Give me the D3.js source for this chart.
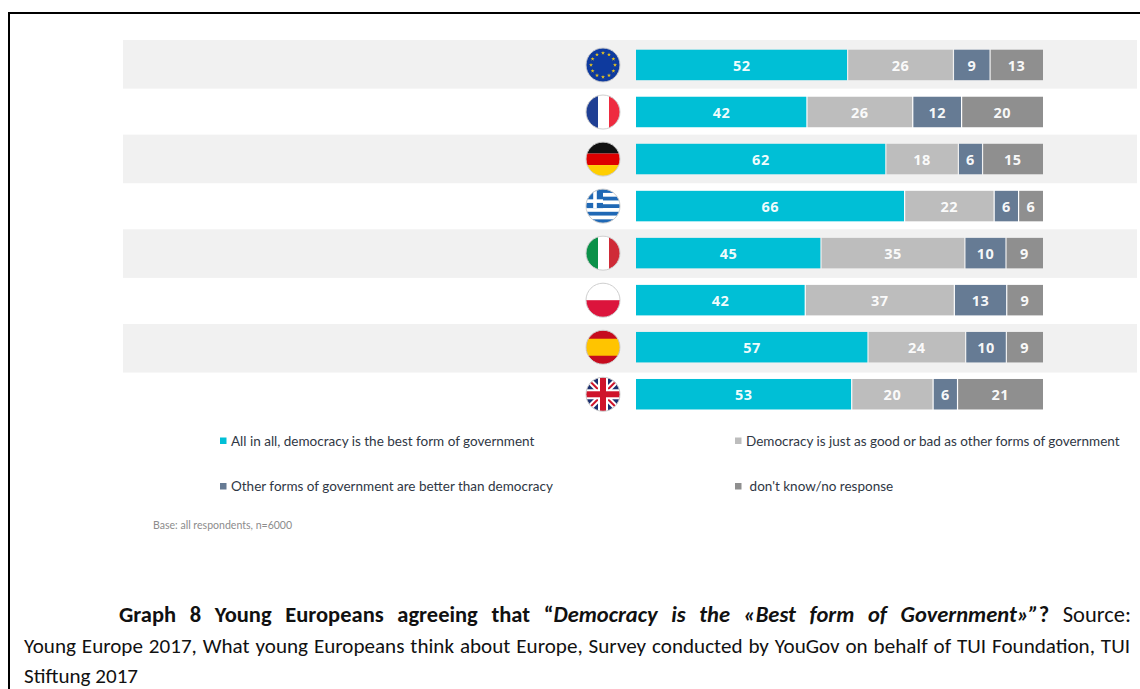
<!DOCTYPE html>
<html><head><meta charset="utf-8">
<script src="https://cdn.jsdelivr.net/npm/d3@7"></script>
<style>html,body{margin:0;padding:0;background:#fff;overflow:hidden}svg{display:block}</style>
</head><body><svg id="c" width="1140" height="689"></svg>
<script>
const countries = ["EU","France","Germany","Greece","Italy","Poland","Spain","UK"];
const bestForm   = [52,42,62,66,45,42,57,53];
const asGoodBad  = [26,26,18,22,35,37,24,20];
const otherForms = [9,12,6,6,10,13,10,6];
const dontKnow   = [13,20,15,6,9,9,9,21];
const seriesKeys = ["best","same","other","dk"];
const seriesLabels = ["All in all, democracy is the best form of government","Democracy is just as good or bad as other forms of government","Other forms of government are better than democracy","don't know/no response"];
const seriesColors = ["#00bfd6","#bdbdbd","#667b94","#8f8f8f"];

const svg = d3.select("#c");
const CHART = "Lato, 'Open Sans', sans-serif";
const table = countries.map((c,i)=>({country:c,best:bestForm[i],same:asGoodBad[i],other:otherForms[i],dk:dontKnow[i]}));
const rowY = d3.scaleBand().domain(countries).range([40,40+8*47.33]);
const barY = d3.scaleBand().domain(countries).range([49.7,49.7+8*47.04]);
const rowScale = d => d3.scaleLinear().domain([0,d.best+d.same+d.other+d.dk]).range([636,1043]);

// frame
svg.append("path").attr("d","M9,689V13H1140").attr("fill","none").attr("stroke","#000").attr("stroke-width",2);

// alternating bands
svg.append("g").selectAll("rect").data(countries.filter((c,i)=>i%2===0)).join("rect")
  .attr("x",123).attr("width",1014).attr("y",c=>rowY(c)).attr("height",48.6).attr("fill","#f1f1f1");

// bars
const stacked = d3.stack().keys(seriesKeys)(table);
const color = d3.scaleOrdinal(seriesKeys,seriesColors);
const groups = svg.append("g").selectAll("g").data(stacked).join("g").attr("fill",s=>color(s.key));
groups.selectAll("rect").data(s=>s.map(p=>({p,key:s.key}))).join("rect")
  .attr("x",d=>rowScale(d.p.data)(d.p[0])+(d.p[0]>0?0.6:0))
  .attr("width",d=>rowScale(d.p.data)(d.p[1])-rowScale(d.p.data)(d.p[0])-(d.p[0]>0?0.6:0)-(d.p[1]<d.p.data.best+d.p.data.same+d.p.data.other+d.p.data.dk?0.6:0))
  .attr("y",d=>barY(d.p.data.country)).attr("height",30.5);
groups.selectAll("text").data(s=>s.map(p=>({p,key:s.key}))).join("text")
  .attr("x",d=>{const x=rowScale(d.p.data);return (x(d.p[0])+x(d.p[1]))/2;})
  .attr("y",d=>barY(d.p.data.country)+21)
  .attr("text-anchor","middle").attr("fill","#fff")
  .attr("font-family","'Open Sans',sans-serif").attr("font-weight",700).attr("font-size",14.5).attr("letter-spacing",0.5)
  .attr("fill-opacity",0.95)
  .text(d=>d.p[1]-d.p[0]);

// flags
const R=17;
const defs=svg.append("defs");
defs.append("clipPath").attr("id","disc").append("circle").attr("r",R);
const rect=(g,x,y,w,h,f)=>g.append("rect").attr("x",x).attr("y",y).attr("width",w).attr("height",h).attr("fill",f);
const line=(g,x1,y1,x2,y2,s,w)=>g.append("line").attr("x1",x1).attr("y1",y1).attr("x2",x2).attr("y2",y2).attr("stroke",s).attr("stroke-width",w);
const flags={
  EU(g){rect(g,-R,-R,2*R,2*R,"#0e3a9e");
    const star=d3.symbol().type(d3.symbolStar).size(5)();
    d3.range(12).forEach(i=>{const a=i*Math.PI/6;g.append("path").attr("d",star).attr("fill","#e8c51e").attr("transform",`translate(${12*Math.sin(a)},${-12*Math.cos(a)})`);});},
  France(g){rect(g,-R,-R,12,2*R,"#1f3f94");rect(g,-5,-R,11,2*R,"#fff");rect(g,6,-R,12,2*R,"#ee2b3f");},
  Germany(g){rect(g,-R,-R,2*R,11.5,"#111");rect(g,-R,-5.5,2*R,11.5,"#dd0000");rect(g,-R,6,2*R,11.5,"#ffce00");},
  Greece(g){const b="#1f68b5";rect(g,-R,-R,2*R,2*R,"#fff");
    d3.range(9).forEach(i=>{if(i%2===0)rect(g,-R,-R+i*34/9,2*R,34/9,b);});
    rect(g,-R,-R,17,19,b);rect(g,-R,-6.8,17,3.6,"#fff");rect(g,-9.8,-R,3.6,19,"#fff");},
  Italy(g){rect(g,-R,-R,12,2*R,"#0b9149");rect(g,-5,-R,11,2*R,"#fff");rect(g,6,-R,12,2*R,"#cf2b37");},
  Poland(g){rect(g,-R,-R,2*R,17,"#fff");rect(g,-R,0,2*R,17,"#dc143c");},
  Spain(g){rect(g,-R,-R,2*R,2*R,"#c60b1e");rect(g,-R,-8.5,2*R,17,"#ffc400");},
  UK(g){rect(g,-R,-R,2*R,2*R,"#1c2f6e");
    line(g,-R,-R,R,R,"#fff",6);line(g,-R,R,R,-R,"#fff",6);
    line(g,-R,-R,R,R,"#cf142b",2);line(g,-R,R,R,-R,"#cf142b",2);
    rect(g,-R,-5,2*R,10,"#fff");rect(g,-5,-R,10,2*R,"#fff");
    rect(g,-R,-3,2*R,6,"#cf142b");rect(g,-3,-R,6,2*R,"#cf142b");}
};
const fg=svg.append("g").selectAll("g").data(countries).join("g")
  .attr("transform",c=>`translate(603,${barY(c)+15.3})`);
fg.each(function(c){const outer=d3.select(this);const g=outer.append("g").attr("clip-path","url(#disc)");flags[c](g);
  outer.append("circle").attr("r",R).attr("fill","none").attr("stroke","#cfcfcf").attr("stroke-width",1);});

// legend
const legendX=[220,735,220,735], legendY=[441,441,486.5,486.5], legendTx=[231,746,231,749.6];
seriesKeys.forEach((k,i)=>{
  rect(svg,legendX[i],legendY[i]-3.5,6.5,6.5,seriesColors[i]);
  svg.append("text").attr("x",legendTx[i]).attr("y",legendY[i]+4.8).attr("font-family",CHART).attr("font-size",13.5).attr("fill","#2f3744").text(seriesLabels[i]);
});
svg.append("text").attr("x",153).attr("y",529).attr("font-family",CHART).attr("font-size",10.55).attr("fill","#8c8c8c").text("Base: all respondents, n=6000");

// caption
const CAP="Carlito, Calibri, Lato, 'Open Sans', sans-serif";
const l1=svg.append("text").attr("x",119).attr("y",621.5).attr("font-family",CAP).attr("font-size",22.5).attr("fill","#111");
[["Graph 8 Young Europeans agreeing that “",700,"normal"],["Democracy is the «Best form of Government»”",700,"italic"],["?",700,"normal"],[" Source:",400,"normal"]]
 .forEach(t=>l1.append("tspan").attr("font-weight",t[1]).attr("font-style",t[2]).text(t[0]));
const l2=svg.append("text").attr("x",24).attr("y",652.5).attr("font-family",CAP).attr("font-size",21.1).attr("fill","#111")
 .text("Young Europe 2017, What young Europeans think about Europe, Survey conducted by YouGov on behalf of TUI Foundation, TUI");
svg.append("text").attr("x",24).attr("y",683).attr("font-family",CAP).attr("font-size",21.1).attr("fill","#111").text("Stiftung 2017");
// justify lines as the source paragraph does
function justify(t,width){const n=t.text().split(" ").length-1;const w=t.node().getComputedTextLength();t.attr("word-spacing",(width-w)/n);}
justify(l1,1012);justify(l2,1106);
</script></body></html>
